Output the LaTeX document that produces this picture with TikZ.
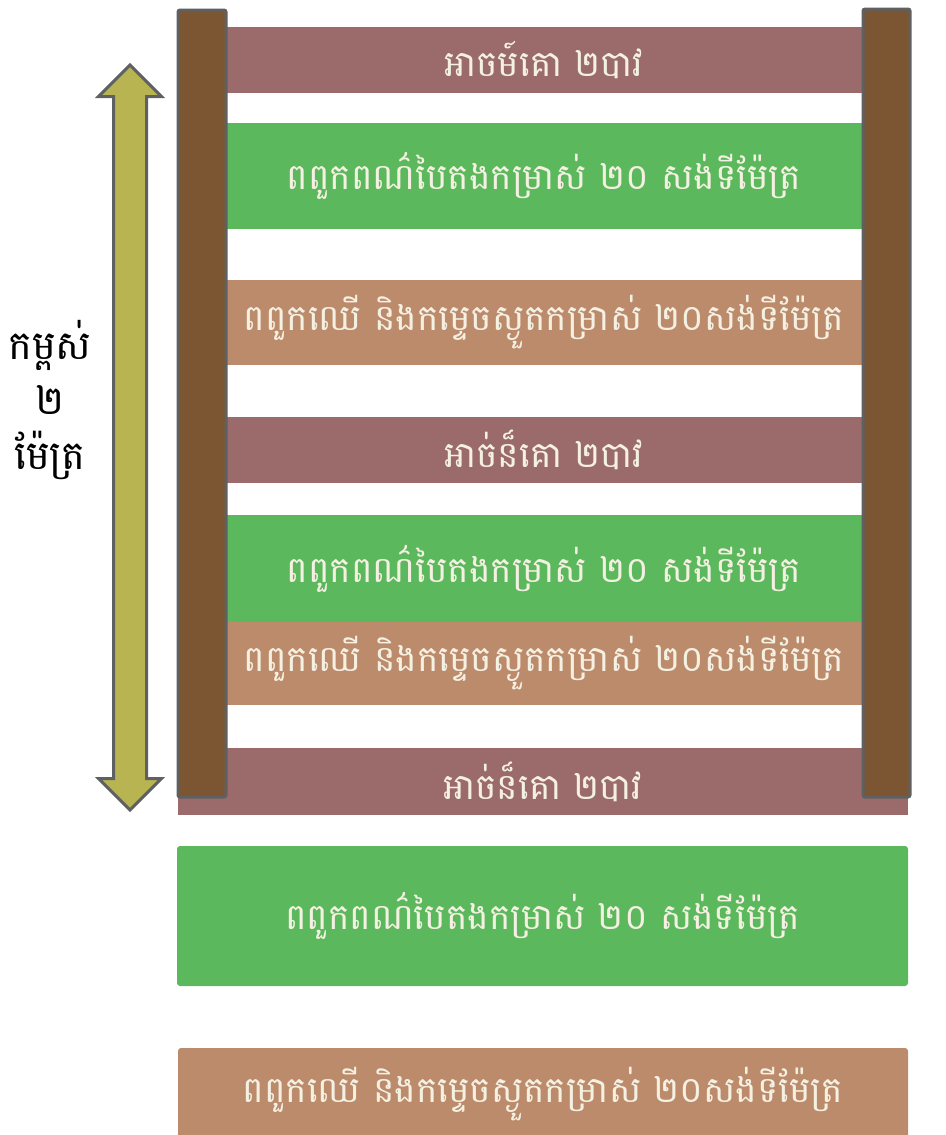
\documentclass[tikz,border=0pt]{standalone}
\usepackage{fontspec}
\newfontfamily\khmerfont[Script=Khmer]{Battambang}
\usetikzlibrary{shapes.arrows,positioning}
\definecolor{mauvebar}{HTML}{9B6B6B}
\definecolor{greenbar}{HTML}{5CB85C}
\definecolor{tanbar}{HTML}{BC8B6C}
\definecolor{postwood}{HTML}{7C5632}
\definecolor{postedge}{HTML}{5E6062}
\definecolor{arrowfill}{HTML}{B8B452}
\definecolor{bartext}{HTML}{F4F0E2}

\begin{document}
\begin{tikzpicture}[x=1pt, y=-1pt, every node/.style={inner sep=0pt, outer sep=0pt},
    layer/.style={minimum width=636pt, text=bartext, font={\khmerfont\fontsize{36}{40}\selectfont}},
    post/.style={fill=postwood, draw=postedge, line width=3pt, rounded corners=2pt},
    sidelabel/.style={font={\khmerfont\fontsize{40}{44}\selectfont}}]
                            \useasboundingbox (0,0) rectangle (945,1135);
                            
                            % layers between the posts
                            \node at (544,60) [layer, fill=mauvebar, minimum height=66pt] (mauveA) {អាចម៍គោ ២បាវ};
                            \node at (544,176) [layer, fill=greenbar, minimum height=106pt] (greenA) {ពពួកពណ៌បៃតងកម្រាស់ ២០ សង់ទីម៉ែត្រ};
                            \node at (544,322.5) [layer, fill=tanbar, minimum height=85pt] (tanA) {ពពួកឈើ និងកម្ទេចស្ងួតកម្រាស់ ២០សង់ទីម៉ែត្រ};
                            \node at (544,450) [layer, fill=mauvebar, minimum height=66pt] (mauveB) {អាច់ន៏គោ ២បាវ};
                            \node at (544,568.5) [layer, fill=greenbar, minimum height=107pt] (greenB) {ពពួកពណ៌បៃតងកម្រាស់ ២០ សង់ទីម៉ែត្រ};
                            \node at (544,663.5) [layer, fill=tanbar, minimum height=83pt] (tanB) {ពពួកឈើ និងកម្ទេចស្ងួតកម្រាស់ ២០សង់ទីម៉ែត្រ};
                            \node at (543,781.5) [layer, fill=mauvebar, minimum width=730pt, minimum height=67pt] (mauveC) {អាច់ន៏គោ ២បាវ};
                            
                            % posts
                            \draw [post] (178,10) rectangle (226,797);
                            \draw [post] (863,9) rectangle (910,797);
                            
                            % layers below
                            \node at (542.5,916) [layer, fill=greenbar, minimum width=731pt, minimum height=140pt, rounded corners=3pt] (greenC) {ពពួកពណ៌បៃតងកម្រាស់ ២០ សង់ទីម៉ែត្រ};
                            \node at (543,1094) [layer, fill=tanbar, minimum width=730pt, minimum height=92pt, rounded corners=3pt] (tanC) {ពពួកឈើ និងកម្ទេចស្ងួតកម្រាស់ ២០សង់ទីម៉ែត្រ};
                            
                            % height
                            \node at (130,437.5) [double arrow, rotate=90, inner sep=15pt, minimum height=745pt, minimum width=60pt, double arrow head extend=15pt, fill=arrowfill, draw=postedge, line width=3pt] (hgt) {};
                            \node at (50,345) [sidelabel] (lblA) {កម្ពស់};
                            \node at (50,400) [sidelabel] (lblB) {២};
                            \node at (50,455) [sidelabel] (lblC) {ម៉ែត្រ};
                     \end{tikzpicture}
\end{document}
